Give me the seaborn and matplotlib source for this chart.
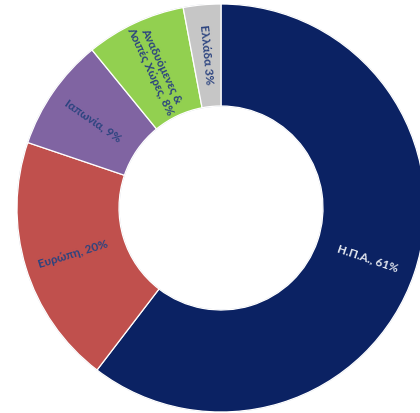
import numpy as np
import matplotlib
matplotlib.use("Agg")
import matplotlib.pyplot as plt
import seaborn as sns

categories = ["Η.Π.Α.", "Ευρώπη", "Ιαπωνία", "Αναδυόμενες &\nΛοιπές Χώρες", "Ελλάδα"]
values = [61, 20, 9, 8, 3]
label_texts = ["Η.Π.Α., 61%", "Ευρώπη, 20%", "Ιαπωνία, 9%", "Αναδυόμενες &\nΛοιπές Χώρες, 8%", "Ελλάδα 3%"]
colors = ["#0b2263", "#c0504d", "#8064a2", "#92d050", "#c6c6c6"]
text_colors = ["#e4e8f0", "#2b437f", "#2b437f", "#2b437f", "#2b437f"]

sns.set_style("white")
plt.rcParams["font.family"] = ["Lato", "DejaVu Sans"]

W, H = 420, 414
fig = plt.figure(figsize=(W / 100, H / 100), dpi=100)
cx, cy, R = 221, 209, 204
ax = fig.add_axes([(cx - R) / W, (H - cy - R) / H, 2 * R / W, 2 * R / H])

wedges, _ = ax.pie(values, colors=colors, startangle=90, counterclock=False,
                   radius=1.0,
                   wedgeprops=dict(width=0.5, edgecolor="white", linewidth=0.9))
ax.set_xlim(-1, 1)
ax.set_ylim(-1, 1)
ax.set_aspect("auto")
ax.axis("off")

# subtle outline of the ring
for r in (1.0, 0.5):
    circ = plt.Circle((0, 0), r, fill=False, edgecolor="#c9d0dc", linewidth=0.8, zorder=0.5)
    ax.add_patch(circ)

for w, txt, tc in zip(wedges, label_texts, text_colors):
    ang = (w.theta1 + w.theta2) / 2.0
    rr = 0.76
    x = rr * np.cos(np.radians(ang))
    y = rr * np.sin(np.radians(ang))
    rot = ang - 180 if np.cos(np.radians(ang)) < 0 else ang
    ax.text(x, y, txt, rotation=rot, rotation_mode="anchor", ha="center", va="center",
            multialignment="center", fontsize=8.5, fontweight="bold", color=tc,
            linespacing=1.15)

fig.savefig("out.png", dpi=100)
